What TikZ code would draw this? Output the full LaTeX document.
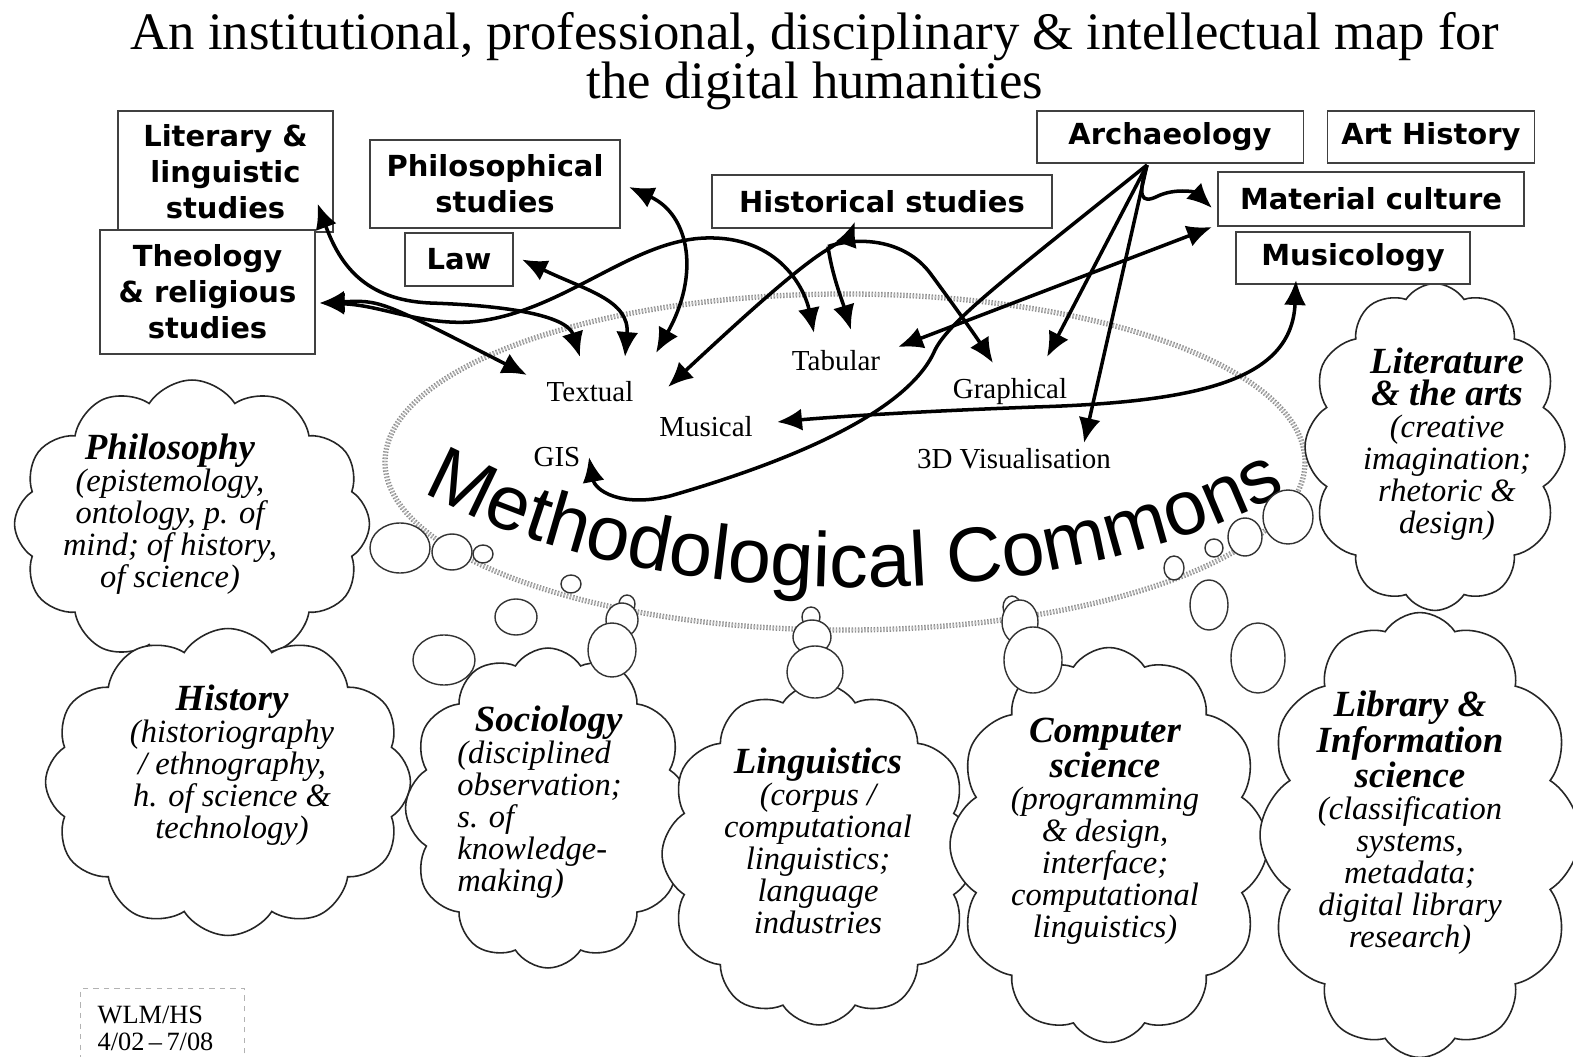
\documentclass[tikz,border=0pt]{standalone}
\usepackage{fontspec}
\usepackage{tikz}
\usetikzlibrary{arrows.meta,shapes.symbols,calc,decorations.text}
\setmainfont{Liberation Serif}
\newfontfamily\boxfont{DejaVu Sans}
\newfontfamily\commonsfont{Liberation Sans}
\newcommand{\hd}[1]{{\bfseries\fontsize{21}{23}\selectfont #1}}
\tikzset{
    field/.style={draw=black!75, line width=1.1pt, fill=white, inner sep=0pt, align=center,
        font=\boxfont\bfseries\fontsize{16.5}{20.5}\selectfont},
    method/.style={inner sep=1pt, font=\fontsize{16.5}{19}\selectfont},
    link/.style={<->, line width=2pt},
    oneway/.style={->, line width=2pt},
    % Thought clouds
    thought/.style={cloud, cloud puffs=12, cloud puff arc=115, draw=black!85, line width=0.9pt, fill=white, inner sep=0pt},
    discipline/.style={align=center, inner sep=0pt, font=\itshape\fontsize{18.5}{18.2}\selectfont},
    bubble/.style={draw=black!80, line width=0.8pt, fill=white},
    commons/.style={draw=gray!90, line width=0.8pt, densely dotted, double=gray!55, double distance=1.4pt},
    stamp/.style={draw=gray!60, dashed, line width=0.8pt, align=left, inner xsep=0.34cm,
        text width=2.6cm, minimum height=1.6cm, font=\fontsize{15}{15.3}\selectfont}
}

\begin{document}
\begin{tikzpicture}[x=0.02cm, y=-0.02cm, >={Latex[length=5mm,width=4.4mm]}]
\path[use as bounding box, fill=white] (0,0) rectangle (1573,1057);

% Methodological commons
\draw[commons] (845,462) ellipse [x radius=460, y radius=168];
\path[decorate, decoration={text along path, text align=center,
    text={|\commonsfont\fontsize{44}{44}\selectfont|Methodological Commons}}]
    (398,477) arc [start angle=142, end angle=38, x radius=580, y radius=288];

% Disciplines
\node[thought, minimum width=7.1cm, minimum height=5.76cm] (philosophy) at (192,524) {};
\node[thought, minimum width=7.3cm, minimum height=6.14cm] (history) at (228,782) {};
\node[thought, minimum width=5.7cm, minimum height=6.4cm] (sociology) at (548,808) {};
\node[thought, minimum width=6.28cm, minimum height=6.84cm] (linguistics) at (819,854) {};
\node[thought, minimum width=6.36cm, minimum height=7.9cm] (compsci) at (1109,845) {};
\node[thought, minimum width=6.4cm, minimum height=8.9cm] (library) at (1420,835) {};
\node[thought, minimum width=5.2cm, minimum height=6.54cm] (literature) at (1435,447) {};

\node[discipline] (philosophyT) at (170,514) {\hd{Philosophy}\\(epistemology,\\ontology, p. of\\mind; of history,\\of science)};
\node[discipline] (historyT) at (232,765) {\hd{History}\\(historiography\\/ ethnography,\\h. of science \&\\technology)};
\node[discipline, align=left, anchor=west] (sociologyT) at (457,802) {\hspace*{10pt}\hd{Sociology}\\(disciplined\\observation;\\s. of\\knowledge-\\making)};
\node[discipline] (linguisticsT) at (818,841) {\hd{Linguistics}\\(corpus /\\computational\\linguistics;\\language\\industries};
\node[discipline] (compsciT) at (1105,831) {\hd{Computer}\\\hd{science}\\(programming\\\& design,\\interface;\\computational\\linguistics)};
\node[discipline] (libraryT) at (1410,823) {\hd{Library \&}\\\hd{Information}\\\hd{science}\\(classification\\systems,\\metadata;\\digital library\\research)};
\node[discipline] (literatureT) at (1447,444) {\hd{Literature}\\\hd{\& the arts}\\(creative\\imagination;\\rhetoric \&\\design)};

% Bubbles
\foreach \bx/\by/\rx/\ry in {400/548/30/25, 452/552/20/18, 483/554/10/9, 571/584/10/9,
    516/617/21/18, 444/660/31/25, 627/604/8/9, 622/620/16/17, 612/650/24/27,
    811/617/9/10, 812/637/19/17, 815/672/28/26, 1012/607/9/11, 1020/622/18/22,
    1033/660/29/33, 1288/517/25/27, 1245/537/17/19, 1214/548/9/9, 1174/568/10/12,
    1209/605/19/25, 1258/658/27/35}
    \draw[bubble] (\bx,\by) ellipse [x radius=\rx, y radius=\ry];

% Institutional fields
\node[field, minimum width=4.3cm, minimum height=2.42cm] (lit) at (225.5,171.5) {Literary \&\\linguistic\\studies};
\node[field, minimum width=4.3cm, minimum height=2.48cm] (theo) at (207.5,292) {Theology\\\& religious\\studies};
\node[field, minimum width=5cm, minimum height=1.76cm] (phil) at (495,184) {Philosophical\\studies};
\node[field, minimum width=2.16cm, minimum height=1.06cm] (law) at (459,259.5) {Law};
\node[field, minimum width=6.8cm, minimum height=1.06cm] (hist) at (882,201.5) {Historical studies};
\node[field, minimum width=5.34cm, minimum height=1.04cm] (arch) at (1170,137) {Archaeology};
\node[field, minimum width=4.14cm, minimum height=1.04cm] (art) at (1431,137) {Art History};
\node[field, minimum width=6.12cm, minimum height=1.08cm] (mat) at (1371,199) {Material culture};
\node[field, minimum width=4.68cm, minimum height=1.04cm] (mus) at (1353,258) {Musicology};

% Methods
\node[method] (textual) at (590,392) {Textual};
\node[method] (tabular) at (836,361) {Tabular};
\node[method] (graphical) at (1010,392) {Graphical};
\node[method] (musical) at (706,427) {Musical};
\node[method] (gis) at (557,457) {GIS};
\node[method] (visual) at (1014,459) {3D Visualisation};

% Links between fields and methods
\draw[link] ($(lit)+(92,32)$) .. controls (340,265) and (365,300) .. (430,303)
    .. controls (520,306) and (568,318) .. ($(textual)+(-10,-35)$);
\draw[link] ($(theo)+(112,11)$) .. controls (380,300) and (380,300) .. ($(textual)+(-63,-17)$);
\draw[link] ($(theo)+(112,11)$) .. controls (380,305) and (420,325) .. (470,322)
    .. controls (560,315) and (630,240) .. (706,238)
    .. controls (780,236) and (805,290) .. ($(tabular)+(-22,-28)$);
\draw[link] ($(law)+(63,0)$) .. controls (585,290) and (630,300) .. ($(textual)+(35,-35)$);
\draw[link] ($(phil)+(134,3)$) .. controls (690,215) and (700,275) .. ($(textual)+(66,-39)$);
\draw[link] ($(hist)+(-27,20)$) .. controls (850,235) and (842,240) .. (830,248)
    .. controls (800,265) and (740,320) .. ($(musical)+(-38,-40)$);
\draw[oneway] ($(hist)+(-54,45)$) .. controls (832,275) and (842,300) .. ($(tabular)+(15,-31)$);
\draw[oneway] ($(hist)+(-54,45)$) .. controls (860,236) and (905,240) .. (930,273)
    .. controls (950,300) and (975,335) .. ($(graphical)+(-17,-29)$);
\draw[link] ($(mat)+(-159,28)$) -- ($(tabular)+(62,-14)$);
\draw[oneway] ($(arch)+(-23,28)$) .. controls (1010,275) and (950,320) .. (935,350)
    .. controls (905,420) and (760,470) .. (670,496)
    .. controls (620,508) and (595,490) .. ($(gis)+(32,0)$);
\draw[oneway] ($(arch)+(-23,28)$) -- ($(graphical)+(37,-35)$);
\draw[oneway] ($(arch)+(-23,28)$) -- ($(visual)+(70,-16)$);
\draw[oneway] ($(arch)+(-23,28)$) .. controls (1138,195) and (1140,205) .. (1158,196)
    .. controls (1175,188) and (1195,192) .. ($(mat)+(-159,9)$);
\draw[link] ($(mus)+(-57,22)$) .. controls (1292,380) and (1200,402) .. (1035,407)
    .. controls (900,412) and (820,418) .. ($(musical)+(71,-5)$);

% Title and stamp
\node[align=center, font=\fontsize{30}{25}\selectfont] (title) at (815,61)
    {An institutional, professional, disciplinary \& intellectual map for\\the digital humanities};
\node[stamp, anchor=north west] (wlm) at (80,988) {WLM/HS\\4/02\,--\,7/08};
\end{tikzpicture}
\end{document}
